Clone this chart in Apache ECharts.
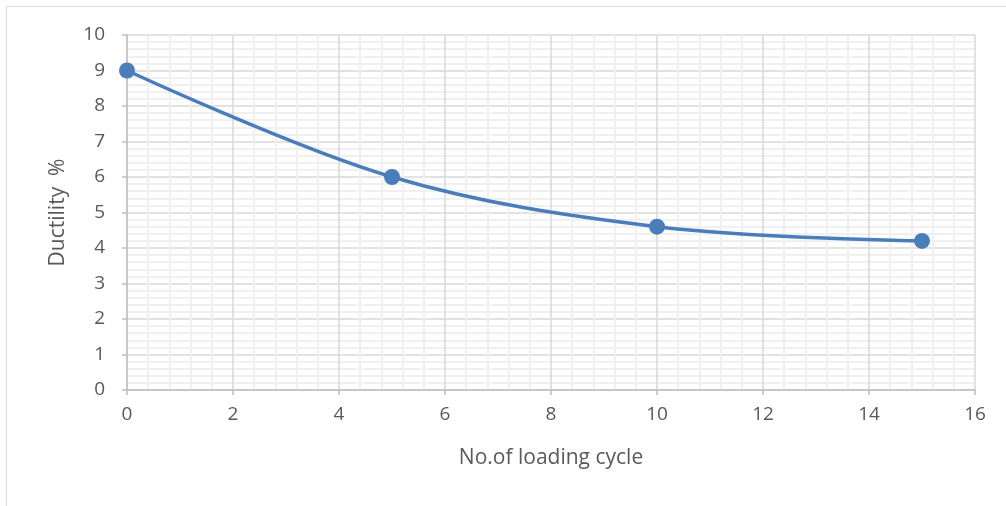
<!DOCTYPE html>
<html>
<head>
<meta charset="utf-8">
<script src="https://cdn.jsdelivr.net/npm/echarts@6/dist/echarts.min.js"></script>
<style>
html, body { margin: 0; padding: 0; background: #fff; }
#chart { width: 1006px; height: 506px; }
</style>
</head>
<body>
<div id="chart"></div>
<script>
// loading cycles vs ductility
var cycles = [0, 5, 10, 15];
var ductility = [9, 6, 4.6, 4.2];
var xTicks = { min: 0, max: 16, interval: 2 };
var yTicks = { min: 0, max: 10, interval: 1 };

var points = [];
for (var i = 0; i < cycles.length; i++) {
	points.push([cycles[i], ductility[i]]);
}

var labelFont = '"Open Sans", "Liberation Sans", sans-serif';

var option = {
	animation: false,
	backgroundColor: '#fff',
	graphic: [{
		type: 'rect',
		shape: { x: 6.5, y: 6.5, width: 1200, height: 700 },
		style: { fill: 'none', stroke: '#d9d9d9', lineWidth: 1 },
		silent: true
	}],
	grid: { left: 127, right: 31, top: 35, bottom: 116 },
	xAxis: {
		type: 'value',
		min: xTicks.min,
		max: xTicks.max,
		interval: xTicks.interval,
		name: 'No.of loading cycle',
		nameLocation: 'middle',
		nameGap: 58,
		nameTextStyle: { color: '#595959', fontSize: 21, fontFamily: labelFont },
		axisLine: { show: true, onZero: false, lineStyle: { color: '#bfbfbf', width: 1.5 } },
		axisTick: { show: true, length: 5, lineStyle: { color: '#bfbfbf', width: 1.5 } },
		axisLabel: { color: '#595959', fontSize: 19, fontFamily: labelFont, margin: 15 },
		splitLine: { show: true, lineStyle: { color: '#d9d9d9', width: 1.5 } },
		minorTick: { show: false, splitNumber: 5 },
		minorSplitLine: { show: true, lineStyle: { color: '#f0f0f0', width: 2 } }
	},
	yAxis: {
		type: 'value',
		min: yTicks.min,
		max: yTicks.max,
		interval: yTicks.interval,
		name: 'Ductility  %',
		nameLocation: 'middle',
		nameGap: 58,
		nameTextStyle: { color: '#595959', fontSize: 21, fontFamily: labelFont },
		axisLine: { show: true, lineStyle: { color: '#bfbfbf', width: 1.5 } },
		axisTick: { show: true, length: 5, lineStyle: { color: '#bfbfbf', width: 1.5 } },
		axisLabel: { color: '#595959', fontSize: 19, fontFamily: labelFont, margin: 22 },
		splitLine: { show: true, lineStyle: { color: '#d9d9d9', width: 1.5 } },
		minorTick: { show: false, splitNumber: 5 },
		minorSplitLine: { show: true, lineStyle: { color: '#f0f0f0', width: 2 } }
	},
	series: [{
		type: 'line',
		data: points,
		smooth: 0.35,
		symbol: 'circle',
		symbolSize: 16,
		itemStyle: { color: '#4a7ebb' },
		lineStyle: { color: '#4a7ebb', width: 3.5 }
	}]
};

var myChart = echarts.init(document.getElementById('chart'));
myChart.setOption(option);
</script>
</body>
</html>
